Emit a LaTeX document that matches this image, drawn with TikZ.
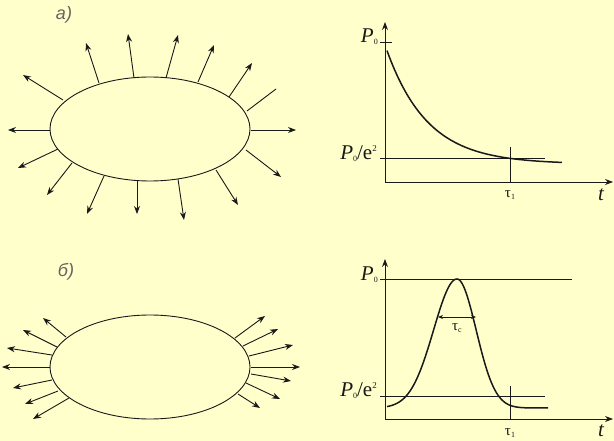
\documentclass[tikz,border=0pt]{standalone}
\usepackage{fontspec}
\setmainfont{Liberation Serif}
\newfontfamily\labfont{Liberation Sans}
\usetikzlibrary{arrows.meta}
\definecolor{bgyel}{RGB}{255,255,204}
\definecolor{inkc}{RGB}{25,25,25}
\definecolor{labgray}{RGB}{100,100,100}
\tikzset{
  ray/.style={draw=inkc, line width=0.9pt, -{Stealth[length=8pt,width=6pt]}},
  body/.style={draw=inkc, line width=0.9pt},
  axis/.style={draw=inkc, line width=0.9pt, -{Stealth[length=8pt,width=6pt]}},
  thin/.style={draw=inkc, line width=0.8pt},
  curve/.style={draw=inkc, line width=1.5pt},
  plab/.style={font=\fontsize{21}{21}\selectfont, inner sep=0pt, text=inkc},
  taulab/.style={font=\fontsize{15}{15}\selectfont, inner sep=0pt, text=inkc},
  tlab/.style={font=\fontsize{21}{21}\selectfont\itshape, inner sep=0pt, text=inkc},
  partlab/.style={font=\labfont\itshape\fontsize{18}{18}\selectfont, text=labgray, inner sep=0pt}
}
\newcommand{\subz}{\raisebox{-2pt}{\fontsize{8}{8}\selectfont 0}}
\newcommand{\subone}{\raisebox{-2pt}{\fontsize{8}{8}\selectfont 1}}
\newcommand{\supt}{\raisebox{8pt}{\fontsize{9}{9}\selectfont 2}}
\begin{document}
\begin{tikzpicture}[x=1pt,y=-1pt]
\fill[bgyel] (0,0) rectangle (614,441);
\useasboundingbox (0,0) rectangle (614,441);

% ---------- part a) ----------
\node[partlab] (la) at (64,15) {а)};
\draw[body] (150,129) ellipse [x radius=100, y radius=52];
\draw[ray] (50,130) -- (8,130);
\draw[ray] (63,100) -- (23,75);
\draw[ray] (99,83) -- (86,43);
\draw[ray] (134,78) -- (128,34);
\draw[ray] (166,78) -- (178,35);
\draw[ray] (198,82) -- (214,45);
\draw[ray] (229,97) -- (252,63);
\draw[body] (247,111) -- (276,89);
\draw[ray] (251,130) -- (296,130);
\draw[ray] (246,150) -- (281,177);
\draw[ray] (216,170) -- (238,205);
\draw[ray] (178,179) -- (184,220);
\draw[ray] (137,181) -- (137,214);
\draw[ray] (104,176) -- (87,214);
\draw[ray] (72,163) -- (47,195);
\draw[ray] (58,149) -- (18,168);

% ---------- graph a) ----------
\coordinate (oa) at (385,182);
\coordinate (ya) at (385,22);
\coordinate (xa) at (613,182);
\draw[axis] (oa) -- (ya);
\draw[axis] (oa) -- (xa);
\draw[thin] (380,42) -- (392,42);
\draw[thin] (380,158) -- (545,158);
\draw[thin] (510,147) -- (510,182);
\draw[curve] plot[domain=2:177, samples=90] ({385+\x},{182-18-119*exp(-\x/41)});
\node[plab, anchor=east] (p0a) at (378,37) {\textit{P}\subz};
\node[plab, anchor=east] (pea) at (377,154) {\textit{P}\subz/e\supt};
\node[taulab] (t1a) at (510,195) {τ\subone};
\node[tlab] (ta) at (601,195) {t};

% ---------- part b) ----------
\node[partlab] (lb) at (66,272) {б)};
\draw[body] (150,367) ellipse [x radius=100, y radius=52];
\draw[ray] (66,337) -- (43,318);
\draw[ray] (57,347) -- (23,330);
\draw[ray] (52,355) -- (7,348);
\draw[ray] (50,367) -- (2,367);
\draw[ray] (52,380) -- (13,388);
\draw[ray] (58,391) -- (25,404);
\draw[ray] (69,398) -- (33,419);
\draw[ray] (235,338) -- (265,316);
\draw[ray] (243,346) -- (278,329);
\draw[ray] (249,356) -- (293,345);
\draw[ray] (251,367) -- (300,367);
\draw[ray] (251,374) -- (291,381);
\draw[ray] (246,383) -- (280,399);
\draw[ray] (238,394) -- (260,408);

% ---------- graph b) ----------
\coordinate (ob) at (385,419);
\coordinate (yb) at (385,259);
\coordinate (xb) at (613,419);
\draw[axis] (ob) -- (yb);
\draw[axis] (ob) -- (xb);
\draw[thin] (380,279) -- (572,279);
\draw[thin] (380,396) -- (545,396);
\draw[thin] (510,386) -- (510,419);
\draw[curve] plot[domain=387:457, samples=70] (\x,{419-11-129*exp(-((\x-457)/33)^2)})
  -- plot[domain=457:548, samples=90] (\x,{419-11-129*exp(-((\x-457)/27)^2)});
\coordinate (wl) at (438,317);
\coordinate (wr) at (476,317);
\draw[draw=inkc, line width=0.8pt, {Stealth[length=5pt,width=4pt]}-{Stealth[length=5pt,width=4pt]}] (wl) -- (wr);
\node[taulab] (tc) at (457,328) {τ\raisebox{-2pt}{\fontsize{8}{8}\selectfont c}};
\node[plab, anchor=east] (p0b) at (378,275) {\textit{P}\subz};
\node[plab, anchor=east] (peb) at (377,391) {\textit{P}\subz/e\supt};
\node[taulab] (t1b) at (510,433) {τ\subone};
\node[tlab] (tb) at (601,431) {t};
\end{tikzpicture}
\end{document}
